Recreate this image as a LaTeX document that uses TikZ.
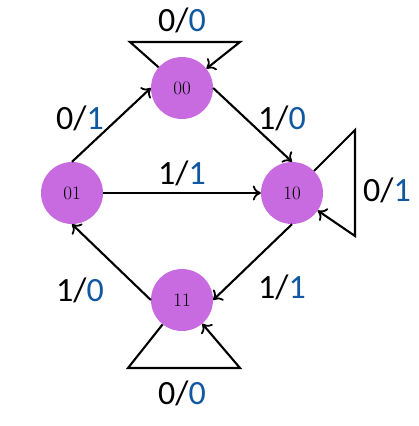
\documentclass[tikz,border=0pt]{standalone}
\usepackage{fontspec}
\newfontfamily\lblfont{Carlito}
\usetikzlibrary{arrows.meta}
\definecolor{statefill}{RGB}{200,106,224}
\definecolor{outblue}{RGB}{16,88,160}
\tikzset{
  state/.style={circle,fill=statefill,minimum size=62pt,inner sep=0pt,font=\fontsize{19}{21}\selectfont},
  trans/.style={line width=2.1pt,-{To[length=8pt,width=15pt,line width=1.8pt]}},
  lbl/.style={font=\lblfont\fontsize{34}{40}\selectfont,inner sep=0pt}
}
\newcommand{\io}[2]{#1/\textcolor{outblue}{#2}}
\begin{document}
\begin{tikzpicture}[x=1pt,y=-1pt]
\useasboundingbox (0,0) rectangle (419,426);
\node[state] (s00) at (182,88) {00};
\node[state] (s01) at (72,193) {01};
\node[state] (s10) at (292,193) {10};
\node[state] (s11) at (182,300) {11};
\coordinate (a1) at (130,42);
\coordinate (a2) at (240,42);
\coordinate (b1) at (355,130);
\coordinate (b2) at (355,236);
\coordinate (c1) at (128,368);
\coordinate (c2) at (240,368);
\draw[trans] (s01.north) -- (s00.west);
\draw[trans] (s00.east) -- (s10.north);
\draw[trans] (s01.east) -- (s10.west);
\draw[trans] (s10.south) -- (s11.east);
\draw[trans] (s11.west) -- (s01.south);
\draw[trans] (s00) -- (a1) -- (a2) -- (s00);
\draw[trans] (s10) -- (b1) -- (b2) -- (s10);
\draw[trans] (s11) -- (c1) -- (c2) -- (s11);
\node[lbl] (l1) at (182,20) {\io{0}{0}};
\node[lbl] (l2) at (80,118) {\io{0}{1}};
\node[lbl] (l3) at (282,118) {\io{1}{0}};
\node[lbl] (l4) at (182,173) {\io{1}{1}};
\node[lbl] (l5) at (387,190) {\io{0}{1}};
\node[lbl] (l6) at (80,290) {\io{1}{0}};
\node[lbl] (l7) at (282,287) {\io{1}{1}};
\node[lbl] (l8) at (182,393) {\io{0}{0}};
\end{tikzpicture}
\end{document}
